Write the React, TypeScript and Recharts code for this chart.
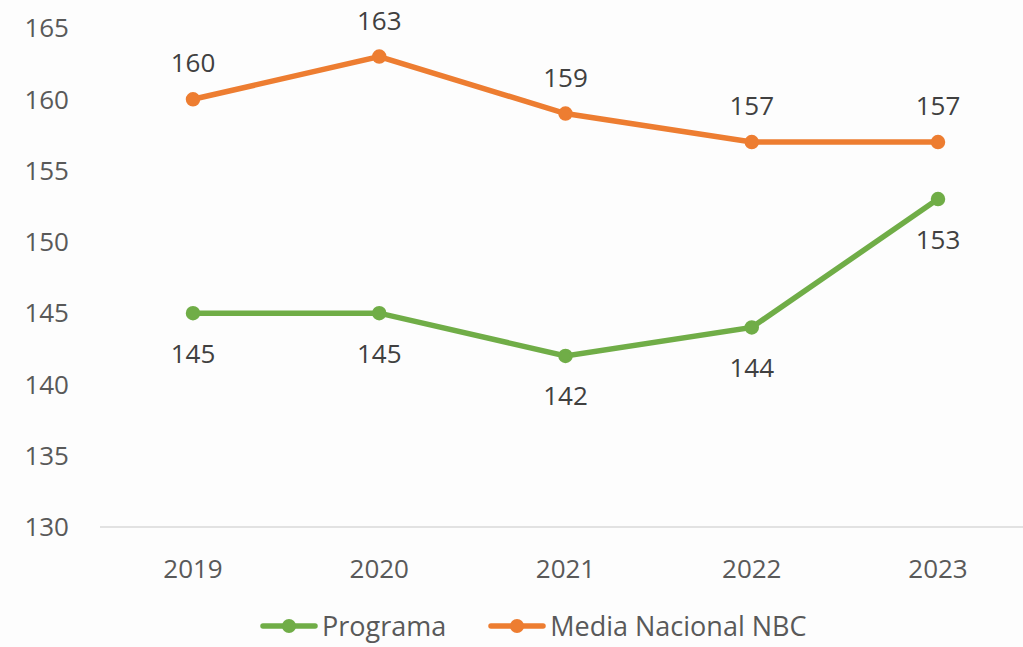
import React from 'react';
import { LineChart, Line, XAxis, YAxis, LabelList, Legend } from 'recharts';

const years = ['2019', '2020', '2021', '2022', '2023'];
const programa = [145, 145, 142, 144, 153];
const mediaNacional = [160, 163, 159, 157, 157];
const yTicks = [130, 135, 140, 145, 150, 155, 160, 165];

const SERIES = [
  { key: 'programa', name: 'Programa', color: '#70AD47' },
  { key: 'media', name: 'Media Nacional NBC', color: '#ED7D31' },
];

const data = years.map((y, i) => ({ year: y, programa: programa[i], media: mediaNacional[i] }));

const FONT = '"Open Sans", sans-serif';

const LegendContent = () => (
  <div style={{ display: 'flex', gap: 42, height: 36, alignItems: 'center', fontFamily: FONT, fontSize: 27, lineHeight: '36px', color: '#595959', paddingLeft: 260 }}>
    {SERIES.map(s => (
      <div key={s.key} style={{ display: 'flex', alignItems: 'center' }}>
        <svg width={58} height={16} style={{ marginRight: 4 }}>
          <line x1={3} y1={8} x2={55} y2={8} stroke={s.color} strokeWidth={5.5} strokeLinecap="round" />
          <circle cx={29} cy={8} r={7} fill={s.color} />
        </svg>
        <span>{s.name}</span>
      </div>
    ))}
  </div>
);

export default function App() {
  return (
    <div style={{ position: 'absolute', left: 0, top: 0, width: 1023, height: 647, overflow: 'hidden', background: '#fdfdfd' }}>
      <LineChart width={1031} height={647} data={data} margin={{ top: 28, right: 0, bottom: 0, left: 0 }}>
        <XAxis
          dataKey="year"
          height={84}
          padding={{ left: 93, right: 93 }}
          axisLine={{ stroke: '#d9d9d9', strokeWidth: 1.5 }}
          tickLine={false}
          tickMargin={27}
          tick={{ fill: '#595959', fontSize: 26, fontFamily: FONT }}
        />
        <YAxis
          width={100}
          domain={[130, 165]}
          ticks={yTicks}
          axisLine={false}
          tickLine={false}
          tickMargin={25}
          tick={{ fill: '#595959', fontSize: 26, fontFamily: FONT, textAnchor: 'end' }}
        />
        <Legend
          content={<LegendContent />}
          height={36}
          wrapperStyle={{ top: 608, left: 0, width: 1031 }}
        />
        <Line
          dataKey="programa"
          name="Programa"
          stroke="#70AD47"
          strokeWidth={5.5}
          dot={{ r: 6, fill: '#70AD47', stroke: '#70AD47', strokeWidth: 2.5 }}
          isAnimationActive={false}
        >
          <LabelList dataKey="programa" position="bottom" offset={31} fill="#404040" fontSize={26} fontFamily={FONT} />
        </Line>
        <Line
          dataKey="media"
          name="Media Nacional NBC"
          stroke="#ED7D31"
          strokeWidth={5.5}
          dot={{ r: 6, fill: '#ED7D31', stroke: '#ED7D31', strokeWidth: 2.5 }}
          isAnimationActive={false}
        >
          <LabelList dataKey="media" position="top" offset={27} fill="#404040" fontSize={26} fontFamily={FONT} />
        </Line>
      </LineChart>
    </div>
  );
}
